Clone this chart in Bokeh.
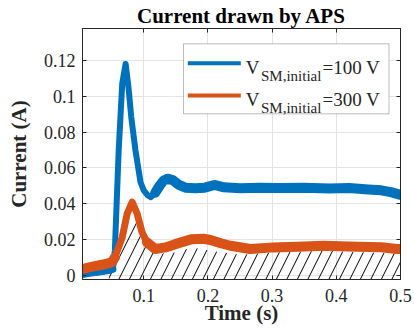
from bokeh.plotting import figure
from bokeh.models import Range1d, LinearAxis, Label, BoxAnnotation, FixedTicker, CustomJSTickFormatter
from bokeh.embed import file_html
from bokeh.resources import INLINE

# ---------------- data ----------------
title_text = "Current drawn by APS"
x_label = "Time (s)"
y_label = "Current (A)"

x_ticks = [0.1, 0.2, 0.3, 0.4, 0.5]
x_tick_labels = ["0.1", "0.2", "0.3", "0.4", "0.5"]
y_ticks = [0, 0.02, 0.04, 0.06, 0.08, 0.1, 0.12]
y_tick_labels = ["0", "0.02", "0.04", "0.06", "0.08", "0.1", "0.12"]

x_min, x_max = 0.0046, 0.5
y_min, y_max = -0.0022, 0.1377

# V_SM,initial = 100 V  (blue)
blue_t = [0.0046, 0.015, 0.03, 0.045, 0.052, 0.055, 0.061, 0.0665, 0.0718, 0.0765,
          0.0805, 0.087, 0.095, 0.100, 0.106, 0.111, 0.118, 0.125, 0.131, 0.137,
          0.145, 0.155, 0.165, 0.18, 0.195, 0.21, 0.225, 0.25, 0.28, 0.31,
          0.35, 0.39, 0.42, 0.45, 0.47, 0.485, 0.5]
blue_i = [0.0005, 0.0012, 0.002, 0.0028, 0.0035, 0.014, 0.070, 0.107, 0.118, 0.104,
          0.0885, 0.070, 0.052, 0.0475, 0.0448, 0.0437, 0.0462, 0.0502, 0.053, 0.054,
          0.0532, 0.0505, 0.049, 0.0487, 0.049, 0.0505, 0.0492, 0.0487, 0.049, 0.0488,
          0.049, 0.0485, 0.0488, 0.048, 0.0475, 0.0465, 0.045]

# V_SM,initial = 300 V  (orange)
orange_t = [0.0046, 0.02, 0.035, 0.05, 0.055, 0.0665, 0.0742, 0.082, 0.0897, 0.0975,
            0.105, 0.118, 0.134, 0.149, 0.175, 0.193, 0.204, 0.22, 0.235, 0.266,
            0.302, 0.34, 0.38, 0.432, 0.47, 0.494, 0.5]
orange_i = [0.0037, 0.005, 0.006, 0.0073, 0.010, 0.0213, 0.0345, 0.0409, 0.0345, 0.024,
            0.0185, 0.0148, 0.0157, 0.0175, 0.0203, 0.0205, 0.0198, 0.018, 0.0166, 0.0148,
            0.0157, 0.016, 0.0166, 0.016, 0.0158, 0.0148, 0.0148]

# hatched area (upper boundary)
hatch_t = [0.0456, 0.0587, 0.0716, 0.086, 0.0975, 0.105, 0.118, 0.149, 0.175, 0.204,
           0.25, 0.302, 0.38, 0.494, 0.5]
hatch_top = [0.0, 0.0082, 0.0194, 0.0334, 0.0213, 0.0157, 0.012, 0.0129, 0.0157, 0.0138,
             0.0116, 0.0129, 0.0138, 0.0123, 0.0123]

legend_main = "V"
legend_sub = "SM,initial"
legend_suffix = ["=100 V", "=300 V"]

# ---------------- styling ----------------
BLUE = "#0072BD"
ORANGE = "#D95319"
DARK = "#262626"
GRID = "#e3e3e3"
SERIF = "Liberation Serif"

p = figure(width=414, height=331, output_backend="svg", toolbar_location=None,
           x_range=Range1d(x_min, x_max), y_range=Range1d(y_min, y_max),
           min_border_left=82, min_border_right=14, min_border_top=28, min_border_bottom=52,
           background_fill_color="white", border_fill_color="white")
p.outline_line_color = DARK
p.outline_line_width = 1

# title
p.title.text = title_text
p.title.text_font = SERIF
p.title.text_font_size = "21px"
p.title.text_font_style = "bold"
p.title.text_color = "black"
p.title.align = "center"
p.title.standoff = 1

label_code = """
let best = -1, d = 1e9;
for (let k = 0; k < tick_vals.length; k++) {
  const dd = Math.abs(tick_vals[k] - tick);
  if (dd < d) { d = dd; best = k; }
}
return (best >= 0 && d < 1e-9) ? tick_texts[best] : "";
"""
p.xaxis.ticker = FixedTicker(ticks=x_ticks)
p.yaxis.ticker = FixedTicker(ticks=y_ticks)
p.xaxis.formatter = CustomJSTickFormatter(args=dict(tick_vals=x_ticks, tick_texts=x_tick_labels), code=label_code)
p.yaxis.formatter = CustomJSTickFormatter(args=dict(tick_vals=y_ticks, tick_texts=y_tick_labels), code=label_code)

p.axis.axis_line_color = DARK
p.axis.major_tick_line_color = DARK
p.axis.major_tick_in = 4
p.axis.major_tick_out = 0
p.axis.minor_tick_line_color = None
p.axis.major_label_text_font = SERIF
p.axis.major_label_text_font_size = "18px"
p.axis.major_label_text_color = DARK
p.axis.axis_label_text_font = SERIF
p.axis.axis_label_text_font_size = "21px"
p.axis.axis_label_text_font_style = "bold"
p.axis.axis_label_text_color = DARK
p.xaxis.axis_label = x_label
p.yaxis.axis_label = y_label
p.xaxis.major_label_standoff = 9
p.yaxis.major_label_standoff = 7
p.xaxis.axis_label_standoff = -4
p.yaxis.axis_label_standoff = 10

# tick marks on top and right (MATLAB box), without labels
top_ax = LinearAxis(ticker=FixedTicker(ticks=x_ticks))
right_ax = LinearAxis(ticker=FixedTicker(ticks=y_ticks))
for ax in (top_ax, right_ax):
    ax.axis_line_color = DARK
    ax.major_tick_line_color = DARK
    ax.major_tick_in = 4
    ax.major_tick_out = 0
    ax.minor_tick_line_color = None
    ax.major_label_text_font_size = "1px"
    ax.major_label_text_color = None
    ax.major_label_standoff = 0
p.add_layout(top_ax, "above")
p.add_layout(right_ax, "right")

p.xgrid.ticker = FixedTicker(ticks=x_ticks)
p.ygrid.ticker = FixedTicker(ticks=y_ticks)
p.grid.grid_line_color = GRID
p.grid.grid_line_width = 1

# hatched area
p.varea(x=hatch_t, y1=[y_min] * len(hatch_t), y2=hatch_top,
        fill_color=None, fill_alpha=0, hatch_pattern="/", hatch_color="black",
        hatch_weight=1, hatch_scale=21)

# blue series: thinner during transient, thicker noisy band in steady state
bi0 = next(i for i, t in enumerate(blue_t) if t >= 0.118)
bi1 = next(i for i, t in enumerate(blue_t) if t >= 0.052)
p.line(blue_t[:bi1 + 1], blue_i[:bi1 + 1], line_color=BLUE, line_width=7, line_join="round", line_cap="round")
p.line(blue_t, blue_i, line_color=BLUE, line_width=6, line_join="round", line_cap="round")
p.line(blue_t[bi0:], blue_i[bi0:], line_color=BLUE, line_width=10, line_join="round", line_cap="round")

oi0 = next(i for i, t in enumerate(orange_t) if t >= 0.105)
oi1 = next(i for i, t in enumerate(orange_t) if t >= 0.055)
p.line(orange_t[:oi1 + 1], orange_i[:oi1 + 1], line_color=ORANGE, line_width=10, line_join="round", line_cap="round")
p.line(orange_t, orange_i, line_color=ORANGE, line_width=7, line_join="round", line_cap="round")
p.line(orange_t[oi0:], orange_i[oi0:], line_color=ORANGE, line_width=10, line_join="round", line_cap="round")

# legend (manual, to allow subscripts); positions relative to the frame in px
p.add_layout(BoxAnnotation(left=101, right=306.5, bottom=165.7, top=235.7,
                           left_units="screen", right_units="screen",
                           bottom_units="screen", top_units="screen",
                           fill_color="white", fill_alpha=1, line_color=DARK, line_width=1))
rows = [(BLUE, 216.3, 212.3, 204.0), (ORANGE, 184.0, 180.3, 172.0)]
for (col, ly, base, sub_base), suffix in zip(rows, legend_suffix):
    p.add_layout(BoxAnnotation(left=105.3, right=158.3, bottom=ly - 2, top=ly + 2,
                               left_units="screen", right_units="screen",
                               bottom_units="screen", top_units="screen",
                               fill_color=col, fill_alpha=1, line_color=None))
    p.add_layout(Label(x=163.3, y=base, x_units="screen", y_units="screen", text=legend_main,
                       text_font=SERIF, text_font_size="19px", text_baseline="alphabetic",
                       text_color=DARK))
    p.add_layout(Label(x=178.5, y=sub_base, x_units="screen", y_units="screen", text=legend_sub,
                       text_font=SERIF, text_font_size="15px", text_baseline="alphabetic",
                       text_color=DARK))
    p.add_layout(Label(x=240, y=base, x_units="screen", y_units="screen", text=suffix,
                       text_font=SERIF, text_font_size="19px", text_baseline="alphabetic",
                       text_color=DARK))

open("out.html", "w").write(file_html(p, INLINE))
